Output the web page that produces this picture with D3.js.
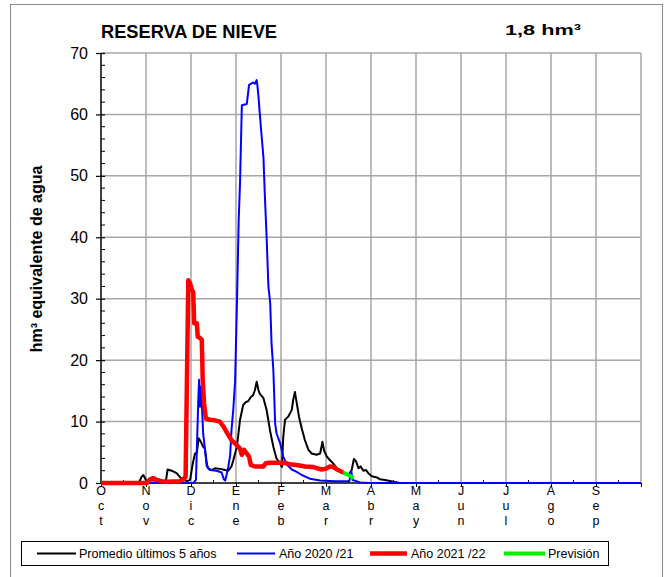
<!DOCTYPE html>
<html><head><meta charset="utf-8">
<script src="https://cdn.jsdelivr.net/npm/d3@7"></script>
<style>body{margin:0;background:#fff}svg{display:block;font-family:"Liberation Sans",Arial,sans-serif}</style>
</head><body><svg id="c" width="670" height="577"></svg>
<script>
// x values are months elapsed since 1 Oct (hydrological year), y values in hm3
const monthLabels = ["Oct","Nov","Dic","Ene","Feb","Mar","Abr","May","Jun","Jul","Ago","Sep"];
const yTickValues = [0,10,20,30,40,50,60,70];
const title = "RESERVA DE NIEVE";
const currentValue = "1,8 hm³";
const yLabel = "hm³ equivalente de agua";
const seriesNames = ["Promedio últimos 5 años","Año 2020 /21","Año 2021 /22","Previsión"];

const promedio = [[0,0],[0.84,0],[0.90,1.0],[0.94,1.3],[0.99,0.6],[1.03,0.2],[1.09,0.4],[1.27,0.4],[1.44,0.2],[1.48,2.2],[1.57,2.0],[1.68,1.6],[1.76,0.9],[1.83,0.5],[1.92,0.3],[1.98,0.5],[2.04,3.2],[2.09,4.8],[2.13,4.9],[2.17,7.3],[2.22,6.7],[2.27,5.9],[2.31,5.6],[2.35,3.2],[2.38,2.4],[2.46,2.1],[2.53,2.4],[2.64,2.3],[2.76,2.1],[2.83,2.0],[2.90,2.7],[2.94,3.7],[3.02,5.9],[3.09,10.3],[3.16,12.7],[3.22,13.2],[3.27,13.3],[3.33,14.0],[3.38,14.3],[3.42,15.1],[3.46,16.5],[3.50,15.1],[3.53,14.5],[3.61,13.8],[3.68,11.9],[3.76,8.4],[3.83,5.9],[3.90,4.0],[3.98,3.2],[4.02,2.6],[4.05,7.5],[4.09,10.3],[4.16,10.8],[4.24,11.9],[4.27,13.5],[4.31,14.8],[4.35,13.0],[4.40,10.8],[4.46,8.9],[4.53,7.0],[4.61,5.4],[4.68,4.8],[4.79,4.6],[4.87,4.8],[4.92,6.7],[4.96,5.2],[5.02,4.3],[5.09,3.7],[5.16,3.2],[5.27,2.1],[5.38,1.6],[5.50,1.3],[5.57,2.1],[5.62,3.9],[5.67,3.5],[5.72,2.4],[5.77,2.7],[5.83,2.0],[5.89,2.1],[5.94,1.6],[6.02,1.1],[6.13,0.9],[6.20,0.6],[6.31,0.5],[6.50,0.2],[6.64,0],[12,0]];

const anio2020 = [[0,0],[2.05,0],[2.11,0.5],[2.16,13],[2.18,16.8],[2.20,12.4],[2.22,15.7],[2.24,13],[2.27,8.1],[2.31,5.5],[2.35,2.7],[2.42,2.1],[2.57,2.0],[2.68,1.7],[2.73,0.6],[2.76,0.4],[2.79,1.3],[2.83,2.7],[2.87,4.5],[2.90,8.6],[2.94,12],[2.98,16.5],[3.02,29],[3.06,42.8],[3.09,49],[3.13,61.5],[3.24,61.7],[3.29,64.8],[3.38,65.2],[3.42,65.0],[3.46,65.6],[3.47,65.1],[3.50,62.9],[3.53,60.0],[3.57,56.4],[3.61,53.0],[3.64,47.0],[3.68,40.1],[3.72,32.0],[3.76,29.3],[3.79,22.7],[3.83,18.4],[3.87,9.7],[3.90,8.1],[3.98,6.5],[4.05,4.3],[4.13,3.0],[4.24,2.2],[4.35,1.8],[4.46,1.3],[4.64,0.7],[4.87,0.4],[5.20,0.3],[5.52,0.3],[5.56,2.0],[5.59,0.5],[5.76,0.1],[5.98,0],[12,0]];

const anio2021 = [[0,0],[1.02,0],[1.09,0.6],[1.16,0.8],[1.24,0.5],[1.35,0.3],[1.46,0.2],[1.76,0.3],[1.83,0.6],[1.88,1.0],[1.94,33.0],[1.98,32.5],[2.02,31.4],[2.05,31.1],[2.07,26.0],[2.13,26.0],[2.15,23.8],[2.20,23.6],[2.24,23.3],[2.26,16.8],[2.29,13.0],[2.33,10.5],[2.42,10.3],[2.53,10.2],[2.64,10.0],[2.72,9.2],[2.83,7.8],[2.90,7.0],[3.01,6.2],[3.09,5.6],[3.13,4.6],[3.18,5.4],[3.24,4.8],[3.29,4.3],[3.33,2.9],[3.42,2.7],[3.61,2.7],[3.66,3.2],[3.76,3.3],[3.94,3.3],[4.13,3.2],[4.24,3.0],[4.38,2.9],[4.53,2.7],[4.72,2.6],[4.90,2.2],[4.98,2.3],[5.09,2.7],[5.16,2.6],[5.27,2.1],[5.38,1.7]];

const prevision = [[5.38,1.7],[5.50,1.3],[5.57,1.0],[5.61,0.8]];

const svg = d3.select("#c");
const X0 = 101, X1 = 641, Y0 = 483, Y1 = 53;
const x = d3.scaleLinear().domain([0,12]).range([X0,X1]);
const y = d3.scaleLinear().domain([0,70]).range([Y0,Y1]);

// outer frame
svg.append("rect").attr("x",10.5).attr("y",4.5).attr("width",652).attr("height",580)
  .attr("fill","none").attr("stroke","#8c8c8c").attr("stroke-width",1);

// grid
const grid = svg.append("g").attr("stroke","#a6a6a6").attr("stroke-width",1.5);
yTickValues.filter(v=>v>0).forEach(v=>{
  grid.append("line").attr("x1",X0).attr("x2",X1).attr("y1",y(v)).attr("y2",y(v));
});
d3.range(1,13).forEach(m=>{
  grid.append("line").attr("x1",x(m)).attr("x2",x(m)).attr("y1",Y1).attr("y2",Y0);
});

// y axis
const yAxis = d3.axisLeft(y).tickValues(yTickValues).tickSize(5).tickPadding(8).tickFormat(d3.format("d"));
const gy = svg.append("g").attr("transform",`translate(${X0},0)`).call(yAxis);
gy.select(".domain").remove();
gy.selectAll(".tick line").attr("x2",-5).attr("x1",4).attr("stroke","#000").attr("stroke-width",1.2);
gy.selectAll(".tick text").attr("font-size",16).attr("fill","#000").attr("font-family","Liberation Sans, Arial, sans-serif");
const yMinor = d3.range(0,71,2).filter(v=>v%10!==0);
svg.append("g").selectAll("line").data(yMinor).join("line")
  .attr("x1",X0).attr("x2",X0+4).attr("y1",d=>y(d)).attr("y2",d=>y(d)).attr("stroke","#000").attr("stroke-width",1);
svg.append("line").attr("x1",X0).attr("x2",X0).attr("y1",Y1).attr("y2",Y0).attr("stroke","#000").attr("stroke-width",1.5);

// x axis
const xAxis = d3.axisBottom(x).tickValues(d3.range(0,13)).tickSize(4).tickFormat("");
const gx = svg.append("g").attr("transform",`translate(0,${Y0})`).call(xAxis);
gx.select(".domain").remove();
gx.selectAll(".tick line").attr("stroke","#000");
svg.append("g").selectAll("line").data(d3.range(0.5,12,1)).join("line")
  .attr("x1",d=>x(d)).attr("x2",d=>x(d)).attr("y1",Y0).attr("y2",Y0-3).attr("stroke","#000");
svg.append("line").attr("x1",X0).attr("x2",X1).attr("y1",Y0).attr("y2",Y0).attr("stroke","#000").attr("stroke-width",1.5);

const xl = svg.append("g").attr("font-size",12.5).attr("fill","#000").attr("text-anchor","middle");
monthLabels.forEach((m,i)=>{
  m.split("").forEach((ch,j)=>{
    xl.append("text").attr("x",x(i)).attr("y",495+j*15).text(ch);
  });
});

// series
const line = d3.line().x(d=>x(d[0])).y(d=>y(d[1]));
const styles = [
  {data:promedio,color:"#000000",w:2},
  {data:anio2020,color:"#0000ff",w:2},
  {data:anio2021,color:"#ff0000",w:4.5},
  {data:prevision,color:"#00ee00",w:4}
];
styles.forEach(s=>{
  svg.append("path").datum(s.data).attr("d",line).attr("fill","none")
    .attr("stroke",s.color).attr("stroke-width",s.w).attr("stroke-linejoin","round");
});

// titles
svg.append("text").attr("x",101).attr("y",38).attr("font-size",17.5).attr("font-weight","bold")
  .attr("textLength",176).attr("lengthAdjust","spacingAndGlyphs").text(title);
svg.append("text").attr("x",505).attr("y",35).attr("font-size",15.5).attr("font-weight","bold")
  .attr("textLength",76).attr("lengthAdjust","spacingAndGlyphs").text(currentValue);
svg.append("text").attr("transform","translate(42,259) rotate(-90)").attr("text-anchor","middle")
  .attr("font-size",16).attr("font-weight","bold").text(yLabel);

// legend
const lg = svg.append("g");
lg.append("rect").attr("x",21.5).attr("y",541.5).attr("width",587).attr("height",24)
  .attr("fill","#fff").attr("stroke","#000").attr("stroke-width",1);
const legendPos = [{x1:37,x2:76,tx:79},{x1:237,x2:275,tx:279},{x1:370,x2:407,tx:411},{x1:504,x2:545,tx:548}];
styles.forEach((s,i)=>{
  const p = legendPos[i];
  lg.append("line").attr("x1",p.x1).attr("x2",p.x2).attr("y1",553.5).attr("y2",553.5)
    .attr("stroke",s.color).attr("stroke-width",s.w);
  lg.append("text").attr("x",p.tx).attr("y",558).attr("font-size",12.5).text(seriesNames[i]);
});
</script></body></html>
